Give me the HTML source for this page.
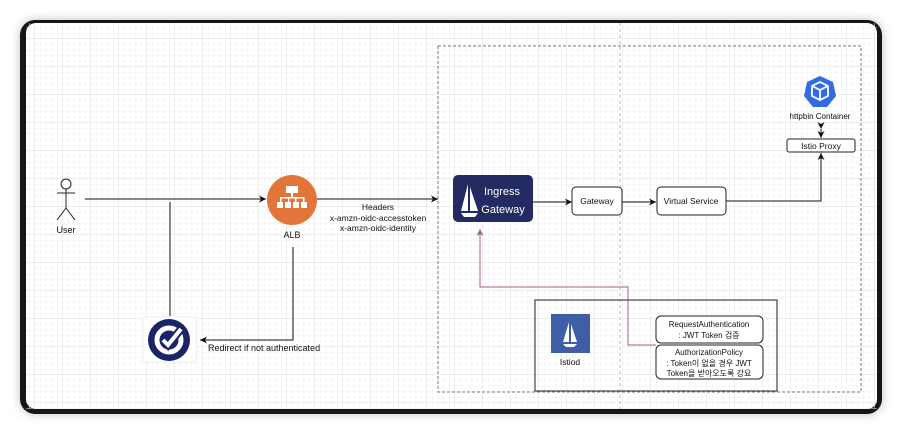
<!DOCTYPE html>
<html><head><meta charset="utf-8"><style>
html,body{margin:0;padding:0;background:#fff;width:902px;height:434px;overflow:hidden}
svg{display:block}
text{font-family:"Liberation Sans","Noto Sans CJK KR",sans-serif;fill:#111}
</style></head><body>
<svg width="902" height="434" viewBox="0 0 902 434" xmlns="http://www.w3.org/2000/svg">
<defs>
<pattern id="minor" width="5.6" height="5.6" patternUnits="userSpaceOnUse" x="7" y="11">
<path d="M5.6 0V5.6M0 5.6H5.6" stroke="#f0f0f0" stroke-width="1" fill="none"/></pattern>
<pattern id="major" width="28" height="28" patternUnits="userSpaceOnUse" x="7" y="11">
<path d="M28 0V28M0 28H28" stroke="#dedede" stroke-width="1" fill="none"/></pattern>
<marker id="ar" markerWidth="8" markerHeight="8" refX="7" refY="4" orient="auto" markerUnits="userSpaceOnUse"><path d="M0,0.5 L7,4 L0,7.5 L2,4z" fill="#111"/></marker>
<marker id="arp" markerWidth="8" markerHeight="8" refX="7" refY="4" orient="auto" markerUnits="userSpaceOnUse"><path d="M0,0.5 L7,4 L0,7.5 L2,4z" fill="#a0608f"/></marker>
<filter id="sh" x="-5%" y="-5%" width="110%" height="110%"><feDropShadow dx="0" dy="0" stdDeviation="5" flood-color="#000" flood-opacity="0.25"/></filter>
</defs>
<rect x="20" y="20" width="862" height="394" rx="15" fill="#151515" filter="url(#sh)"/>
<rect x="26" y="23" width="851" height="386" rx="10" fill="#fff"/>
<rect x="26" y="23" width="851" height="386" fill="url(#minor)"/>
<rect x="26" y="23" width="851" height="386" fill="url(#major)"/>
<!-- dashed -->
<rect x="438" y="46" width="423" height="346" fill="none" stroke="#777" stroke-dasharray="3,2"/>
<line x1="620" y1="23" x2="620" y2="409" stroke="#bbb" stroke-dasharray="3,3"/>
<!-- user -->
<g stroke="#222" fill="none" stroke-width="1">
<circle cx="66" cy="184" r="5"/><line x1="66" y1="189" x2="66" y2="208"/><line x1="57" y1="193" x2="75" y2="193"/>
<line x1="66" y1="208" x2="57" y2="220"/><line x1="66" y1="208" x2="75" y2="220"/></g>
<text x="66" y="233" font-size="9" text-anchor="middle">User</text>
<!-- connectors -->
<g stroke="#111" fill="none" stroke-width="1">
<line x1="85" y1="199" x2="266" y2="199" marker-end="url(#ar)"/>
<line x1="170" y1="202" x2="170" y2="316"/>
<line x1="317" y1="199" x2="438" y2="199" marker-end="url(#ar)"/>
<polyline points="293,247 293,340 200,340" marker-end="url(#ar)"/>
<line x1="533" y1="202" x2="572" y2="202" marker-end="url(#ar)"/>
<line x1="622" y1="202" x2="656" y2="202" marker-end="url(#ar)"/>
<polyline points="726,201 821,201 821,153" marker-end="url(#ar)"/>
<line x1="821" y1="129" x2="821" y2="138" marker-end="url(#ar)" marker-start="url(#ar)"/>
</g>
<polyline points="656,345 628,345 628,287 480,287 480,229" fill="none" stroke="#a0608f" stroke-width="1" marker-end="url(#arp)"/>
<!-- ALB -->
<circle cx="292" cy="200" r="25" fill="#e2763a"/>
<g fill="#fff"><rect x="286" y="186" width="12" height="7"/><rect x="291" y="193" width="2" height="5"/>
<rect x="280" y="197" width="24" height="1.5"/><rect x="280" y="197" width="1.5" height="5"/><rect x="288" y="197" width="1.5" height="5"/><rect x="295" y="197" width="1.5" height="5"/><rect x="303" y="197" width="1.5" height="5"/>
<rect x="277" y="202" width="6" height="6"/><rect x="285" y="202" width="6" height="6"/><rect x="293" y="202" width="6" height="6"/><rect x="301" y="202" width="6" height="6"/></g>
<text x="292" y="238" font-size="9" text-anchor="middle">ALB</text>
<text x="378" y="210" font-size="8.5" text-anchor="middle">Headers</text>
<text x="378" y="221" font-size="8.5" text-anchor="middle">x-amzn-oidc-accesstoken</text>
<text x="378" y="231" font-size="8.5" text-anchor="middle">x-amzn-oidc-identity</text>
<!-- okta -->
<rect x="143" y="317" width="53" height="45" rx="2" fill="#fff" stroke="#eee"/>
<circle cx="169" cy="340" r="21" fill="#1b2466"/>
<circle cx="169" cy="340" r="12" fill="none" stroke="#fff" stroke-width="5"/>
<path d="M163,340 L168,345 L181,329" fill="none" stroke="#1b2466" stroke-width="8"/>
<path d="M163,340 L168,345 L181,329" fill="none" stroke="#fff" stroke-width="4"/>
<text x="208" y="351" font-size="9">Redirect if not authenticated</text>
<!-- ingress -->
<rect x="453" y="175" width="80" height="47" rx="5" fill="#242a62"/>
<path d="M468,184 L468,211 L461,211z" fill="#fff"/><path d="M470,187 L478,211 L470,211z" fill="#fff"/><path d="M461,213 L478,213 L475,217 L464,217z" fill="#fff"/>
<text x="502" y="195" font-size="11" text-anchor="middle" style="fill:#fff">Ingress</text>
<text x="503" y="213" font-size="11" text-anchor="middle" style="fill:#fff">Gateway</text>
<!-- gateway / vs -->
<rect x="572" y="187" width="50" height="28" rx="4" fill="#fff" stroke="#222"/>
<text x="597" y="204" font-size="8.5" text-anchor="middle">Gateway</text>
<rect x="657" y="187" width="69" height="28" rx="4" fill="#fff" stroke="#222"/>
<text x="691" y="204" font-size="8.5" text-anchor="middle">Virtual Service</text>
<!-- httpbin -->
<polygon points="820,76 833,82 836,96 827,107 813,107 804,96 807,82" fill="#326ce5"/>
<path d="M812,86 L820,82 L828,86 L828,96 L820,100 L812,96z M812,86 L820,90 L828,86 M820,90 L820,100" fill="none" stroke="#fff" stroke-width="1.8"/>
<text x="820" y="119" font-size="8" text-anchor="middle">httpbin Container</text>
<rect x="787" y="139" width="68" height="13" rx="2" fill="#fff" stroke="#222"/>
<text x="821" y="149" font-size="8.5" text-anchor="middle">Istio Proxy</text>
<!-- istiod -->
<rect x="535" y="300" width="242" height="91" fill="none" stroke="#444" stroke-width="1.2"/>
<rect x="551" y="314" width="39" height="39" fill="#3f5ea6"/>
<path d="M569,322 L569,342 L563,342z" fill="#fff"/><path d="M571,324 L577,342 L571,342z" fill="#fff"/><path d="M563,344 L577,344 L574,347 L566,347z" fill="#fff"/>
<text x="570" y="365" font-size="8.5" text-anchor="middle">Istiod</text>
<rect x="656" y="316" width="107" height="27" rx="5" fill="#fff" stroke="#222"/>
<text x="709" y="327" font-size="8" text-anchor="middle">RequestAuthentication</text>
<text x="709" y="338" font-size="8" text-anchor="middle">: JWT Token 검증</text>
<rect x="656" y="345" width="107" height="34" rx="5" fill="#fff" stroke="#222"/>
<text x="709" y="355" font-size="8" text-anchor="middle">AuthorizationPolicy</text>
<text x="709" y="366" font-size="8" text-anchor="middle">: Token이 없을 경우 JWT</text>
<text x="709" y="376" font-size="8" text-anchor="middle">Token을 받아오도록 강요</text>
</svg>
</body></html>
